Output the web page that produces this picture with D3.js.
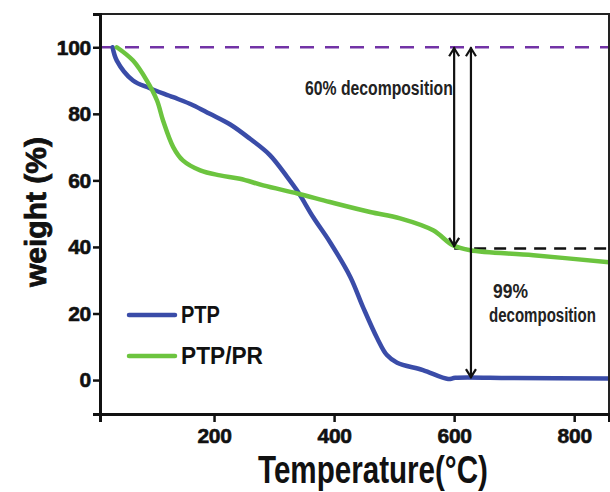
<!DOCTYPE html>
<html>
<head>
<meta charset="utf-8">
<script src="https://cdn.jsdelivr.net/npm/d3@7"></script>
<style>
  body { margin: 0; background: #fff; }
  svg { display: block; }
</style>
</head>
<body>
<div id="chart"></div>
<script>
// TGA curves, temperature (°C) vs weight (%)
const ptpTemp = [31, 38, 65, 93, 132, 165, 193, 227, 260, 293, 322, 340, 365, 393, 427, 448, 472, 488, 505, 548, 590, 602, 700, 858];
const ptpWeight = [100, 96, 90, 87.7, 85, 82.6, 80, 76.8, 72.5, 67.6, 61, 56.5, 49, 41.5, 31, 22, 12.5, 7.5, 5.2, 3, 0.3, 0.7, 0.6, 0.5];

const prTemp = [38, 65, 88, 105, 115, 132, 148, 177, 210, 243, 282, 340, 393, 460, 510, 565, 598, 627, 732, 858];
const prWeight = [100, 96, 90, 84, 78, 70, 66, 63, 61.5, 60.5, 58.5, 56, 53.5, 50.5, 48.6, 45, 40.5, 39, 37.5, 35.4];

const xTicks = [200, 400, 600, 800];
const yTicks = [0, 20, 40, 60, 80, 100];

const seriesNames = ['PTP', 'PTP/PR'];
const seriesColors = ['#3a4ca8', '#6cc43f'];

// annotation arrows (temperature, from weight, to weight)
const arrows = [
  { t: 600, from: 100, to: 40 },
  { t: 628, from: 100, to: 0.6 }
];

const width = 610, height = 492;
const svg = d3.select('#chart').append('svg').attr('width', width).attr('height', height);

const x = d3.scaleLinear().domain([10, 858]).range([100, 609]);
const y = d3.scaleLinear().domain([-10.2, 110]).range([414, 14]);

const condensed = "'Liberation Sans', Arial, sans-serif";

// squeeze a bold text horizontally so it covers the wanted width
function squeezedText(px, py, w, size, str, color) {
  const t = svg.append('text')
    .style('font-family', condensed)
    .style('font-weight', 'bold')
    .style('font-size', size + 'px')
    .attr('fill', color)
    .text(str);
  const natural = t.node().getComputedTextLength();
  t.attr('transform', `translate(${px},${py}) scale(${w / natural},1)`);
  return t;
}

// reference lines
svg.append('line')
  .attr('x1', x(10)).attr('x2', x(858))
  .attr('y1', y(100)).attr('y2', y(100))
  .attr('stroke', '#7233a6').attr('stroke-width', 2.5)
  .attr('stroke-dasharray', '14,11');

svg.append('line')
  .attr('x1', x(600)).attr('x2', x(858))
  .attr('y1', y(39.5)).attr('y2', y(39.5))
  .attr('stroke', '#111').attr('stroke-width', 2.5)
  .attr('stroke-dasharray', '12,8');

// curves
const line = d3.line()
  .x((d) => x(d[0]))
  .y((d) => y(d[1]))
  .curve(d3.curveCatmullRom.alpha(0.5));

const series = [d3.zip(ptpTemp, ptpWeight), d3.zip(prTemp, prWeight)];

svg.selectAll('path.curve')
  .data(series)
  .enter()
  .append('path')
  .attr('class', 'curve')
  .attr('d', line)
  .attr('fill', 'none')
  .attr('stroke', (d, i) => seriesColors[i])
  .attr('stroke-width', 4.5)
  .attr('stroke-linecap', 'round');

// double headed arrows
arrows.forEach((a) => {
  const ax = x(a.t), y1 = y(a.from), y2 = y(a.to);
  svg.append('line')
    .attr('x1', ax).attr('x2', ax).attr('y1', y1).attr('y2', y2)
    .attr('stroke', '#111').attr('stroke-width', 2.2);
  svg.append('path')
    .attr('d', `M${ax - 5},${y1 + 9}L${ax},${y1 + 1}L${ax + 5},${y1 + 9}`)
    .attr('fill', 'none').attr('stroke', '#111').attr('stroke-width', 2.2);
  svg.append('path')
    .attr('d', `M${ax - 5},${y2 - 9}L${ax},${y2 - 1}L${ax + 5},${y2 - 9}`)
    .attr('fill', 'none').attr('stroke', '#111').attr('stroke-width', 2.2);
});

// frame
svg.append('path')
  .attr('d', `M${x(10)},${y(110)}H${x(858)}V${y(-10.2)}`)
  .attr('fill', 'none').attr('stroke', '#222').attr('stroke-width', 2);

// axes
const yAxis = svg.append('g')
  .attr('transform', `translate(${x(10)},0)`)
  .call(d3.axisLeft(y).tickValues(yTicks).tickSize(7).tickPadding(2));

const xAxis = svg.append('g')
  .attr('transform', `translate(0,${y(-10.2)})`)
  .call(d3.axisBottom(x).tickValues(xTicks).tickSize(8).tickPadding(6));

[xAxis, yAxis].forEach((g) => {
  g.select('.domain').attr('stroke', '#111').attr('stroke-width', 3);
  g.selectAll('.tick line').attr('stroke', '#111').attr('stroke-width', 2.5);
  g.selectAll('.tick text')
    .attr('fill', '#111')
    .style('font-family', "'Liberation Sans', Arial, sans-serif")
    .style('font-weight', 'bold')
    .style('font-size', '21px')
    .style('letter-spacing', '-0.3px')
    .style('stroke', '#111')
    .style('stroke-width', '0.6px');
});

// axis titles
svg.append('text')
  .attr('transform', 'translate(46,212) rotate(-90)')
  .attr('text-anchor', 'middle')
  .style('font-family', "'Liberation Sans', Arial, sans-serif")
  .style('font-weight', 'bold')
  .style('font-size', '30px')
  .style('stroke', '#111')
  .style('stroke-width', '0.8px')
  .attr('fill', '#111')
  .text('weight (%)');

squeezedText(258, 483, 230, 38, 'Temperature(°C)', '#111');

// annotation texts
squeezedText(305, 95, 148, 21, '60% decomposition', '#222');
squeezedText(493, 298, 35, 21, '99%', '#222');
squeezedText(489, 322, 107, 21, 'decomposition', '#222');

// legend
seriesNames.forEach((name, i) => {
  const ly = 315 + i * 41;
  svg.append('line')
    .attr('x1', 129).attr('x2', 175)
    .attr('y1', ly).attr('y2', ly)
    .attr('stroke', seriesColors[i]).attr('stroke-width', 4.5)
    .attr('stroke-linecap', 'round');
  squeezedText(181, ly + 8, name.length === 3 ? 39 : 82, 24, name, '#111');
});
</script>
</body>
</html>
